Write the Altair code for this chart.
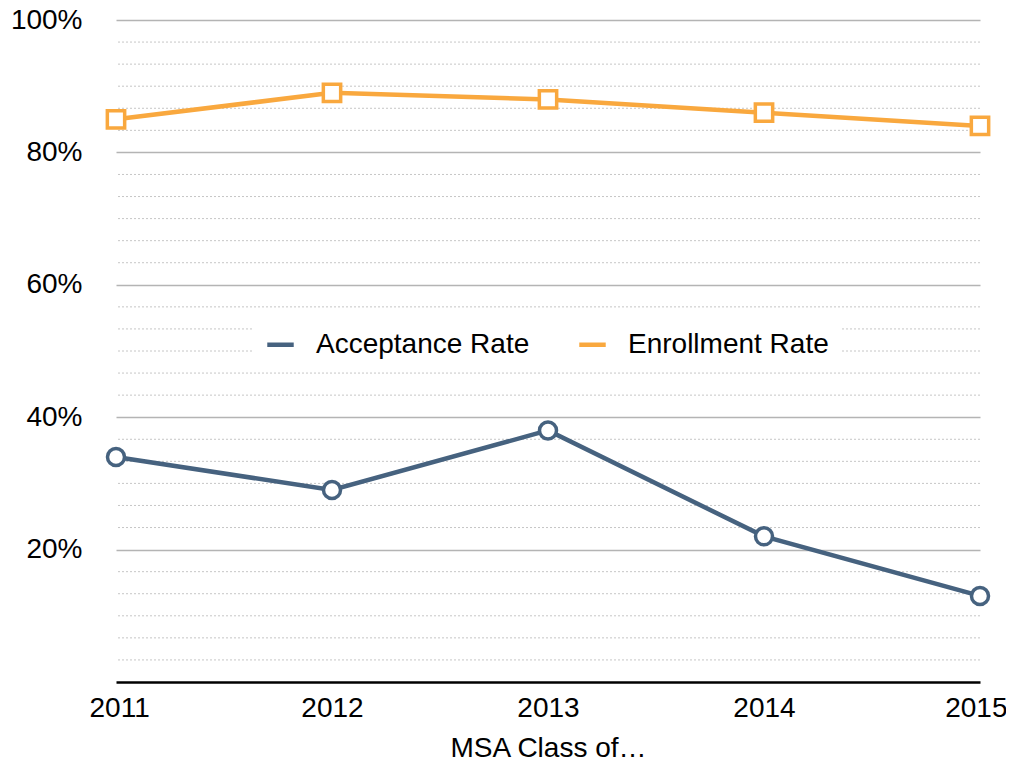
import altair as alt
import pandas as pd

years = [2011, 2012, 2013, 2014, 2015]
acceptance = [0.34, 0.29, 0.38, 0.22, 0.13]
enrollment = [0.85, 0.89, 0.88, 0.86, 0.84]
series_names = ["Acceptance Rate", "Enrollment Rate"]
series_colors = ["#46627f", "#f9a83e"]
major_ticks = [0.2, 0.4, 0.6, 0.8, 1.0]
minor_ticks = [i / 30 for i in range(1, 30) if i % 6 != 0]

df = pd.DataFrame({
    "year": years * 2,
    "rate": acceptance + enrollment,
    "series": [series_names[0]] * 5 + [series_names[1]] * 5,
})
minor_df = pd.DataFrame({"rate": minor_ticks})

FONT = "Liberation Sans"

y_enc = alt.Y(
    "rate:Q",
    scale=alt.Scale(domain=[0, 1], nice=False),
    axis=alt.Axis(values=major_ticks, format=".0%", title=None),
)
x_enc = alt.X(
    "year:O",
    scale=alt.Scale(padding=0),
    axis=alt.Axis(title="MSA Class of…", labelAngle=0),
)

color_scale = alt.Scale(domain=series_names, range=series_colors)

minor = alt.Chart(minor_df).mark_rule(
    color="#c6c6c6", strokeWidth=1, strokeDash=[2, 2]
).encode(y=y_enc)

line = alt.Chart(df).mark_line(strokeWidth=4.5).encode(
    x=x_enc,
    y=y_enc,
    color=alt.Color(
        "series:N",
        scale=color_scale,
        legend=alt.Legend(
            title=None,
            orient="none",
            direction="horizontal",
            legendX=138,
            legendY=298,
            fillColor="white",
            padding=11,
            labelFont=FONT,
            labelFontSize=28,
            labelColor="black",
            labelLimit=500,
            labelOffset=20,
            columnPadding=40,
            symbolSize=700,
            symbolStrokeWidth=4.5,
        ),
    ),
)

pts_acc = alt.Chart(df).transform_filter(
    alt.datum.series == series_names[0]
).mark_point(
    shape="circle", filled=False, fill="white", stroke=series_colors[0],
    size=290, strokeWidth=3.5, opacity=1,
).encode(x=x_enc, y=y_enc)

pts_enr = alt.Chart(df).transform_filter(
    alt.datum.series == series_names[1]
).mark_point(
    shape="square", filled=False, fill="white", stroke=series_colors[1],
    size=300, strokeWidth=3.5, opacity=1,
).encode(x=x_enc, y=y_enc)

chart = (
    alt.layer(minor, line, pts_acc, pts_enr)
    .properties(
        width=864,
        height=662,
        autosize=alt.AutoSizeParams(type="none"),
        padding={"left": 108, "top": 12, "right": 26, "bottom": 75},
    )
    .configure_view(stroke=None)
    .configure_axis(
        labelFont=FONT,
        titleFont=FONT,
        labelFontSize=28,
        titleFontSize=28,
        labelColor="black",
        titleColor="black",
        titleFontWeight="normal",
        ticks=False,
    )
    .configure_axisY(
        domain=False,
        grid=True,
        gridColor="#b4b4b4",
        gridWidth=1.5,
        labelPadding=34,
    )
    .configure_axisX(
        domain=True,
        domainColor="black",
        domainWidth=2.5,
        grid=False,
        labelPadding=12,
        titlePadding=12,
        labelFlush=True,
        labelFlushOffset=27,
    )
)

chart.save("out.html", embed_options={"renderer": "svg", "actions": False})
